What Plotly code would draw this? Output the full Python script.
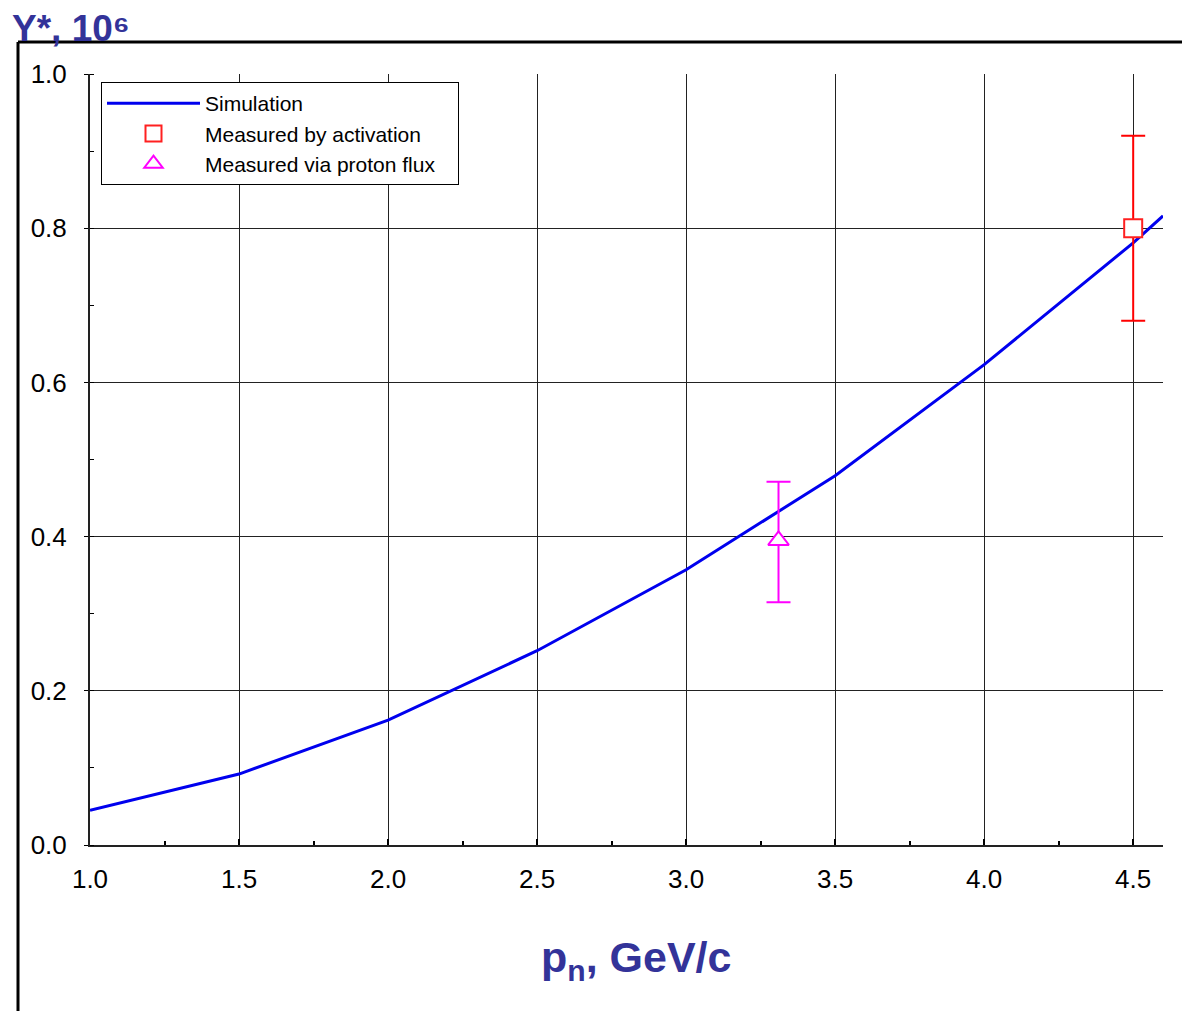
import plotly.graph_objects as go

# Data
sim_x = [1.0, 1.5, 2.0, 2.5, 3.0, 3.5, 4.0, 4.5, 4.6]
sim_y = [0.045, 0.092, 0.162, 0.252, 0.357, 0.479, 0.623, 0.781, 0.816]

act_x = [4.5]
act_y = [0.80]
act_err = [0.12]

flux_x = [3.31]
flux_y = [0.395]
flux_err_plus = [0.076]
flux_err_minus = [0.080]

x_ticks = [1.0, 1.5, 2.0, 2.5, 3.0, 3.5, 4.0, 4.5]
x_tick_labels = ["1.0", "1.5", "2.0", "2.5", "3.0", "3.5", "4.0", "4.5"]
y_ticks = [0.0, 0.2, 0.4, 0.6, 0.8, 1.0]
y_tick_labels = ["0.0", "0.2", "0.4", "0.6", "0.8", "1.0"]

# page is drawn with an 8px body margin
OFF = 8
W, H = 1190 - OFF, 1011 - OFF
L, R, T, B = 90 - OFF, 27, 74 - OFF, 166
PL, PR, PT, PB = 90, 1163, 74, 845  # plot area in page pixels
pw = PR - PL
ph = PB - PT

def px(xp):
    return (xp - PL) / pw

def py(yp):
    return (PB - yp) / ph

PAD = "\u00a0\u00a0\u00a0"

fig = go.Figure()
fig.add_trace(go.Scatter(
    x=sim_x, y=sim_y, mode="lines", name="Simulation",
    line=dict(color="#0000ee", width=3),
))
fig.add_trace(go.Scatter(
    x=act_x, y=act_y, mode="markers", name="Measured by activation",
    marker=dict(symbol="square", size=18, color="white",
                line=dict(color="#ff2020", width=2)),
    error_y=dict(type="data", array=act_err, color="#ff0000",
                 thickness=2, width=12),
))
fig.add_trace(go.Scatter(
    x=flux_x, y=flux_y, mode="markers", name="Measured via proton flux" + PAD,
    marker=dict(symbol="triangle-up", size=18, color="white",
                line=dict(color="#ff00ff", width=2)),
    error_y=dict(type="data", symmetric=False, array=flux_err_plus,
                 arrayminus=flux_err_minus, color="#ff00ff",
                 thickness=2, width=12),
))

fig.update_layout(
    width=W, height=H,
    margin=dict(l=L, r=R, t=T, b=B, autoexpand=False),
    paper_bgcolor="white", plot_bgcolor="white",
    font=dict(family="Liberation Sans, Arial, sans-serif", color="black"),
    showlegend=True,
    legend=dict(
        x=px(101), y=py(82), xanchor="left", yanchor="top",
        bgcolor="white", bordercolor="black", borderwidth=1,
        font=dict(size=21, color="black"),
        itemwidth=93, tracegroupgap=0,
    ),
    xaxis=dict(
        range=[1.0, 4.6], tickvals=x_ticks, ticktext=x_tick_labels,
        showgrid=True, gridcolor="#222222", gridwidth=1,
        showline=True, linecolor="#222222", linewidth=2,
        ticks="inside", ticklen=6, tickwidth=2, tickcolor="black",
        minor=dict(dtick=0.25, ticks="inside", ticklen=4, tickcolor="black", showgrid=False),
        tickfont=dict(size=26), zeroline=False, ticklabelstandoff=10,
    ),
    yaxis=dict(
        range=[0.0, 1.0], tickvals=y_ticks, ticktext=y_tick_labels,
        showgrid=True, gridcolor="#222222", gridwidth=1,
        showline=True, linecolor="#222222", linewidth=2,
        ticks="outside", ticklen=4, tickwidth=1, tickcolor="black",
        minor=dict(dtick=0.1, ticks="inside", ticklen=4, tickcolor="black", showgrid=False),
        tickfont=dict(size=26), zeroline=False, ticklabelstandoff=12,
    ),
)

# outer frame lines (top & left)
fig.add_shape(type="line", xref="paper", yref="paper",
              x0=px(18), x1=px(1195), y0=py(42), y1=py(42),
              line=dict(color="black", width=3))
fig.add_shape(type="line", xref="paper", yref="paper",
              x0=px(18), x1=px(18), y0=py(42), y1=py(1015),
              line=dict(color="black", width=3))

# Titles
fig.add_annotation(
    xref="paper", yref="paper", x=px(10), y=py(29),
    xanchor="left", yanchor="middle", showarrow=False,
    text="<b>Y*, 10\u2076</b>",
    font=dict(size=37, color="#333399"),
)
fig.add_annotation(
    xref="paper", yref="paper", x=px(636), y=py(960),
    xanchor="center", yanchor="middle", showarrow=False,
    text="<b>p<sub>n</sub>, GeV/c</b>",
    font=dict(size=43, color="#333399"),
)

fig.write_html("out.html")
